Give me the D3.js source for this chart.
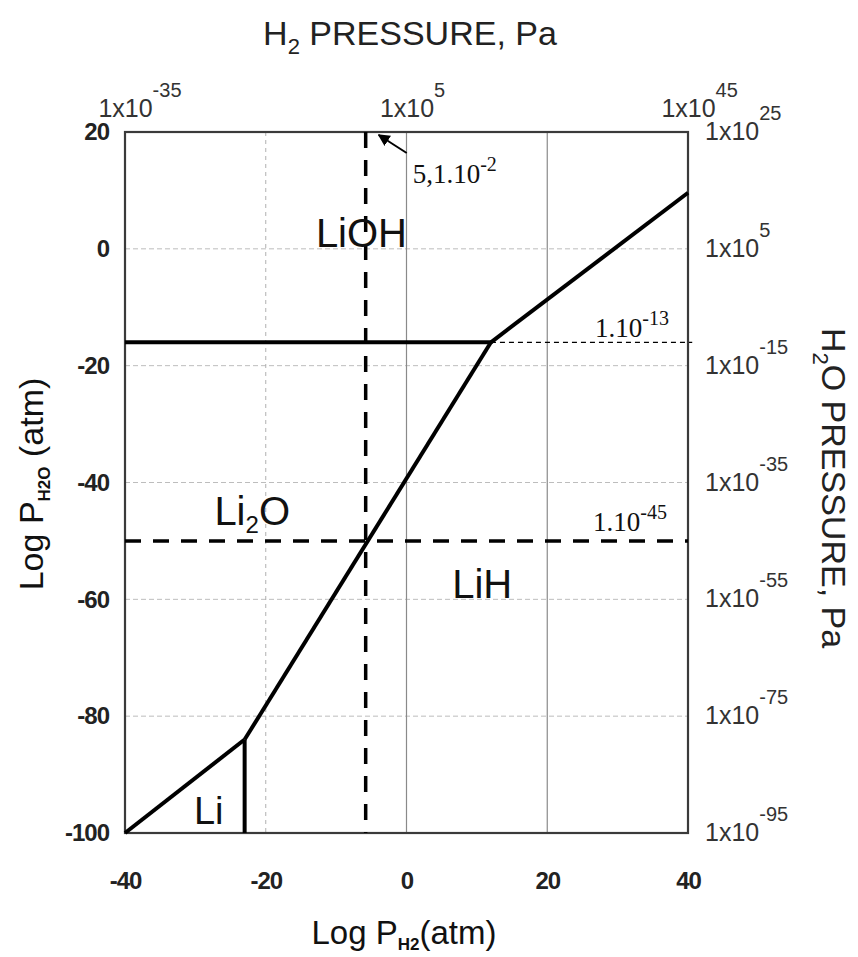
<!DOCTYPE html>
<html><head><meta charset="utf-8">
<script src="https://cdn.jsdelivr.net/npm/d3@7/dist/d3.min.js"></script>
<style>
body{margin:0;background:#fff;}
svg{display:block;}
</style></head><body>
<svg id="chart" width="858" height="957"></svg>
<script>
// Axis ticks and labels
const xTicks = [-40, -20, 0, 20, 40];
const yTicks = [20, 0, -20, -40, -60, -80, -100];
const topTickValues = [-40, 0, 40];
const topTickExponents = ["-35", "5", "45"];
const rightTickExponents = ["25", "5", "-15", "-35", "-55", "-75", "-95"];
const xGridSolid = [0, 20];
const xGridDotted = [-20];
const yGrid = [0, -20, -40, -60, -80];

// Phase boundaries (log P_H2, log P_H2O), atm
const liohLi2o = [[-40, -16], [12, -16]];
const liohLih = [[12, -16], [40, 9.6]];
const li2oLih = [[-23, -84], [12, -16]];
const liLi2o = [[-40, -100], [-23, -84]];
const liLih = [[-23, -84], [-23, -100]];

// Reference levels
const h2Level = [[-5.8, 20], [-5.8, -100]];
const h2oLevel = [[-40, -50], [40, -50]];
const lihLevel = [[12, -16], [40.6, -16]];

const SANS = "'Liberation Sans', Arial, Helvetica, sans-serif";
const SERIF = "'Liberation Serif', 'Times New Roman', serif";

const svg = d3.select("#chart");
const x = d3.scaleLinear().domain([-40, 40]).range([125, 688]);
const y = d3.scaleLinear().domain([-100, 20]).range([833, 132]);
const line = d3.line().x(d => x(d[0])).y(d => y(d[1]));
const plain = d => String(d);   // hyphen-minus, as printed

// grid
const grid = svg.append("g");
grid.selectAll(".gy").data(yGrid).join("line")
  .attr("x1", x(-40)).attr("x2", x(40))
  .attr("y1", d => y(d)).attr("y2", d => y(d))
  .attr("stroke", "#bdbdbd").attr("stroke-width", 1).attr("stroke-dasharray", "5,3");
grid.selectAll(".gxd").data(xGridDotted).join("line")
  .attr("x1", d => x(d)).attr("x2", d => x(d))
  .attr("y1", y(20)).attr("y2", y(-100))
  .attr("stroke", "#b0b0b0").attr("stroke-width", 1).attr("stroke-dasharray", "4,4");
grid.selectAll(".gxs").data(xGridSolid).join("line")
  .attr("x1", d => x(d)).attr("x2", d => x(d))
  .attr("y1", y(20)).attr("y2", y(-100))
  .attr("stroke", "#8a8a8a").attr("stroke-width", 1.2);

// frame
svg.append("rect")
  .attr("x", x(-40)).attr("y", y(20))
  .attr("width", x(40) - x(-40)).attr("height", y(-100) - y(20))
  .attr("fill", "none").attr("stroke", "#3a3a3a").attr("stroke-width", 2.2);

// axes
function styleAxis(g) {
  g.select(".domain").remove();
  g.selectAll(".tick line").remove();
}
svg.append("g").attr("transform", `translate(0,${y(-100)})`)
  .call(d3.axisBottom(x).tickValues(xTicks).tickSize(0).tickPadding(39).tickFormat(plain))
  .call(styleAxis)
  .selectAll("text").attr("font-family", SANS).attr("font-size", 24).attr("font-weight", "bold")
  .attr("fill", "#222").attr("letter-spacing", -1);

svg.append("g").attr("transform", `translate(${x(-40)},0)`)
  .call(d3.axisLeft(y).tickValues(yTicks).tickSize(0).tickPadding(16).tickFormat(plain))
  .call(styleAxis)
  .selectAll("text").attr("font-family", SANS).attr("font-size", 24).attr("font-weight", "bold")
  .attr("fill", "#222").attr("letter-spacing", -1);

function powerLabel(sel, exps) {
  sel.each(function(d, i) {
    const t = d3.select(this);
    t.text(null).attr("font-family", SANS).attr("fill", "#333").attr("font-size", 25);
    t.append("tspan").text("1x10");
    t.append("tspan").attr("font-size", 20).attr("dy", -20).text(exps[i]);
  });
}

const topAxis = svg.append("g").attr("transform", `translate(0,${y(20)})`)
  .call(d3.axisTop(x).tickValues(topTickValues).tickSize(0).tickPadding(15))
  .call(styleAxis);
topAxis.selectAll("text").call(powerLabel, topTickExponents);
topAxis.selectAll("text").each(function() {
  const w = this.firstChild.getComputedTextLength();
  d3.select(this).attr("text-anchor", "start").attr("x", -w / 2);
});

const rightAxis = svg.append("g").attr("transform", `translate(${x(40)},0)`)
  .call(d3.axisRight(y).tickValues(yTicks).tickSize(0).tickPadding(17))
  .call(styleAxis);
rightAxis.selectAll("text").call(powerLabel, rightTickExponents)
  .attr("dy", "0.3em");

// phase boundaries
const solid = [liohLi2o, liohLih, li2oLih, liLi2o, liLih];
svg.append("g").selectAll("path").data(solid).join("path")
  .attr("d", line).attr("fill", "none").attr("stroke", "#000")
  .attr("stroke-width", 4).attr("stroke-linejoin", "round").attr("stroke-linecap", "butt");

// reference levels
svg.append("path").datum(h2Level).attr("d", line).attr("fill", "none")
  .attr("stroke", "#000").attr("stroke-width", 3.5).attr("stroke-dasharray", "16,12");
svg.append("path").datum(h2oLevel).attr("d", line).attr("fill", "none")
  .attr("stroke", "#000").attr("stroke-width", 3.5).attr("stroke-dasharray", "16,12");
svg.append("path").datum(lihLevel).attr("d", line).attr("fill", "none")
  .attr("stroke", "#000").attr("stroke-width", 1.3).attr("stroke-dasharray", "5,4");

// phase labels
function phaseLabel(px, py, parts, anchor) {
  const t = svg.append("text").attr("x", x(px)).attr("y", y(py))
    .attr("font-family", SANS).attr("font-size", 40).attr("fill", "#111")
    .attr("text-anchor", anchor);
  parts.forEach(p => {
    const s = t.append("tspan").text(p[0]);
    if (p[1]) s.attr("font-size", p[2] || 40).attr("dy", p[1]);
  });
  return t;
}
phaseLabel(-6.4, 0.3, [["LiOH"]], "middle");
phaseLabel(-27.3, -47.3, [["Li"], ["2", 8, 24], ["O", -8, 40]], "start");
phaseLabel(6.5, -59.8, [["LiH"]], "start");
phaseLabel(-30.2, -98.4, [["Li"]], "start").attr("font-size", 38);

// value annotations
function noteLabel(px, py, base, sup) {
  const t = svg.append("text").attr("x", px).attr("y", py)
    .attr("font-family", SERIF).attr("font-size", 27).attr("fill", "#111");
  t.append("tspan").text(base);
  t.append("tspan").attr("font-size", 20).attr("dy", -12).text(sup);
}
noteLabel(x(-5.8) + 47, y(20) + 51, "5,1.10", "-2");
noteLabel(x(40) - 93, y(-16) - 5, "1.10", "-13");
noteLabel(x(40) - 95, y(-50) - 10, "1.10", "-45");

// arrow to the top of the H2 level
const defs = svg.append("defs");
defs.append("marker").attr("id", "head").attr("viewBox", "0 0 10 10")
  .attr("refX", 9).attr("refY", 5).attr("markerWidth", 6).attr("markerHeight", 6)
  .attr("orient", "auto-start-reverse")
  .append("path").attr("d", "M0,0 L10,5 L0,10 z").attr("fill", "#000");
svg.append("line")
  .attr("x1", x(-5.8) + 41).attr("y1", y(20) + 21)
  .attr("x2", x(-5.8) + 13).attr("y2", y(20) + 3)
  .attr("stroke", "#000").attr("stroke-width", 2).attr("marker-end", "url(#head)");

// axis titles
const tTop = svg.append("text").attr("x", 410).attr("y", 45).attr("text-anchor", "middle")
  .attr("font-family", SANS).attr("font-size", 34).attr("fill", "#222");
tTop.append("tspan").text("H");
tTop.append("tspan").attr("font-size", 22).attr("dy", 9).text("2");
tTop.append("tspan").attr("dy", -9).text(" PRESSURE, Pa");

const tRight = svg.append("text").attr("transform", "translate(822,488) rotate(90)")
  .attr("text-anchor", "middle").attr("font-family", SANS).attr("font-size", 34).attr("fill", "#222");
tRight.append("tspan").text("H");
tRight.append("tspan").attr("font-size", 22).attr("dy", 9).text("2");
tRight.append("tspan").attr("dy", -9).text("O PRESSURE, Pa");

const tLeft = svg.append("text").attr("transform", "translate(43,484) rotate(-90)")
  .attr("text-anchor", "middle").attr("font-family", SANS).attr("font-size", 34).attr("fill", "#111");
tLeft.append("tspan").text("Log P");
tLeft.append("tspan").attr("font-size", 17).attr("font-weight", "bold").attr("dy", 7).text("H2O");
tLeft.append("tspan").attr("dy", -7).text(" (atm)");

const tBottom = svg.append("text").attr("x", 404).attr("y", 944).attr("text-anchor", "middle")
  .attr("font-family", SANS).attr("font-size", 33).attr("fill", "#111");
tBottom.append("tspan").text("Log P");
tBottom.append("tspan").attr("font-size", 17).attr("font-weight", "bold").attr("dy", 6).text("H2");
tBottom.append("tspan").attr("dy", -6).text("(atm)");
</script>
</body></html>
